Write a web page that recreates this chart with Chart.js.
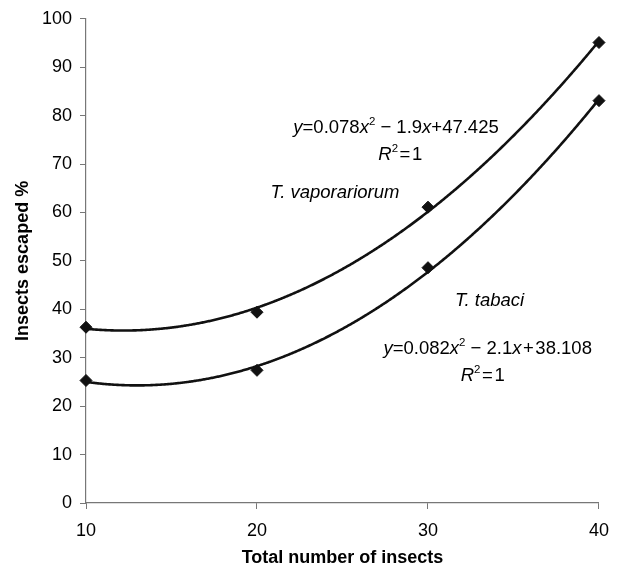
<!DOCTYPE html>
<html>
<head>
<meta charset="utf-8">
<script src="https://cdn.jsdelivr.net/npm/chart.js@4.4.0/dist/chart.umd.min.js"></script>
<style>
html,body{margin:0;padding:0;background:#fff;}
#wrap{width:620px;height:573px;}
</style>
</head>
<body>
<div id="wrap"><canvas id="c" width="620" height="573"></canvas></div>
<script>
// ---- data ----
const totalInsects = [10, 20, 30, 40];
const vaporariorumEscaped = [36.3, 39.4, 61.1, 95.1];
const tabaciEscaped = [25.3, 27.4, 48.6, 83.1];
const seriesNames = ['T. vaporariorum', 'T. tabaci'];
const xTickValues = [10, 20, 30, 40];
const yTickValues = [0, 10, 20, 30, 40, 50, 60, 70, 80, 90, 100];

const FONT = "'Liberation Sans', Arial, Helvetica, sans-serif";

// least-squares quadratic fit (Excel-style polynomial trendline)
function quadFit(xs, ys) {
  let n = xs.length, s1=0,s2=0,s3=0,s4=0,t0=0,t1=0,t2=0;
  for (let i=0;i<n;i++){const x=xs[i],y=ys[i];s1+=x;s2+=x*x;s3+=x*x*x;s4+=x*x*x*x;t0+=y;t1+=x*y;t2+=x*x*y;}
  const M=[[n,s1,s2,t0],[s1,s2,s3,t1],[s2,s3,s4,t2]];
  for (let i=0;i<3;i++){
    for (let k=i+1;k<3;k++){const f=M[k][i]/M[i][i];for(let j=i;j<4;j++)M[k][j]-=f*M[i][j];}
  }
  const r=[0,0,0];
  for (let i=2;i>=0;i--){let s=M[i][3];for(let j=i+1;j<3;j++)s-=M[i][j]*r[j];r[i]=s/M[i][i];}
  return r; // a + b x + c x^2
}

const trendPlugin = {
  id: 'trend',
  beforeDatasetsDraw(chart, args, opts) {
    const {ctx, scales:{x, y}} = chart;
    chart.data.datasets.forEach(ds => {
      const xs = ds.data.map(p => p.x), ys = ds.data.map(p => p.y);
      const [a, b, c] = quadFit(xs, ys);
      const p0 = x.getPixelForValue(Math.min(...xs)), p1 = x.getPixelForValue(Math.max(...xs));
      ctx.save();
      ctx.beginPath();
      for (let px = p0; px <= p1 + 0.01; px += 1) {
        const v = x.getValueForPixel(px);
        const py = y.getPixelForValue(a + b*v + c*v*v);
        if (px === p0) ctx.moveTo(px, py); else ctx.lineTo(px, py);
      }
      ctx.strokeStyle = opts.color;
      ctx.lineWidth = opts.width;
      ctx.lineJoin = 'round';
      ctx.stroke();
      ctx.restore();
    });
  }
};

const labelPlugin = {
  id: 'eqLabels',
  afterDatasetsDraw(chart, args, opts) {
    const {ctx, scales:{x, y}} = chart;
    opts.items.forEach(item => {
      let total = 0;
      const parts = item.segs.map(s => {
        const size = s.sup ? opts.size * 0.62 : opts.size;
        const font = (s.i ? 'italic ' : '') + size + 'px ' + FONT;
        ctx.font = font;
        const w = ctx.measureText(s.t).width;
        total += w;
        return {s, font, w};
      });
      let px = x.getPixelForValue(item.x) - total / 2;
      const py = y.getPixelForValue(item.y);
      ctx.save();
      ctx.fillStyle = '#000';
      ctx.textAlign = 'left';
      ctx.textBaseline = 'alphabetic';
      parts.forEach(p => {
        ctx.font = p.font;
        ctx.fillText(p.s.t, px, p.s.sup ? py - opts.size * 0.42 : py);
        px += p.w;
      });
      ctx.restore();
    });
  }
};

const toPoints = (xs, ys) => xs.map((v, i) => ({x: v, y: ys[i]}));

new Chart(document.getElementById('c'), {
  type: 'scatter',
  data: {
    datasets: [
      {label: seriesNames[0], data: toPoints(totalInsects, vaporariorumEscaped)},
      {label: seriesNames[1], data: toPoints(totalInsects, tabaciEscaped)}
    ]
  },
  options: {
    responsive: false,
    animation: false,
    devicePixelRatio: 1,
    layout: {padding: {left: 0, right: 20, top: 17, bottom: 0}},
    elements: {
      point: {pointStyle: 'rectRot', radius: 6, backgroundColor: '#111', borderColor: '#111', borderWidth: 1}
    },
    datasets: {scatter: {clip: false, showLine: false}},
    plugins: {
      legend: {display: false},
      tooltip: {enabled: false},
      trend: {color: '#111', width: 2.6},
      eqLabels: {
        size: 18.5,
        items: [
          {x: 28.13, y: 76.4, segs: [{t:'y', i:true},{t:'=0.078'},{t:'x', i:true},{t:'2', sup:true},{t:' \u2212 1.9'},{t:'x', i:true},{t:'+47.425'}]},
          {x: 28.38, y: 70.9, segs: [{t:'R', i:true},{t:'2', sup:true},{t:'\u200A=\u200A1'}]},
          {x: 24.56, y: 63.0, segs: [{t:seriesNames[0], i:true}]},
          {x: 33.6, y: 40.7, segs: [{t:seriesNames[1], i:true}]},
          {x: 33.49, y: 30.8, segs: [{t:'y', i:true},{t:'=0.082'},{t:'x', i:true},{t:'2', sup:true},{t:' \u2212 2.1'},{t:'x', i:true},{t:'\u200A+\u200A38.108'}]},
          {x: 33.2, y: 25.2, segs: [{t:'R', i:true},{t:'2', sup:true},{t:'\u200A=\u200A1'}]}
        ]
      }
    },
    scales: {
      x: {
        type: 'linear', min: 10, max: 40,
        afterBuildTicks: s => { s.ticks = xTickValues.map(v => ({value: v})); },
        afterFit: s => { s.height = 70; },
        grid: {display: true, drawOnChartArea: false, drawTicks: true, tickLength: 6, color: '#777'},
        border: {display: true, color: '#777', width: 1.2},
        ticks: {color: '#000', font: {family: FONT, size: 18}, padding: 11, maxRotation: 0},
        title: {display: true, text: 'Total number of insects', color: '#000', font: {family: FONT, size: 18, weight: 'bold'}, padding: {top: 0, bottom: 4}}
      },
      y: {
        type: 'linear', min: 0, max: 100,
        afterBuildTicks: s => { s.ticks = yTickValues.map(v => ({value: v})); },
        afterFit: s => { s.width = 86; },
        grid: {display: true, drawOnChartArea: false, drawTicks: true, tickLength: 6, color: '#777'},
        border: {display: true, color: '#777', width: 1.2},
        ticks: {color: '#000', font: {family: FONT, size: 18}, padding: 8},
        title: {display: true, text: 'Insects escaped %', color: '#000', font: {family: FONT, size: 18, weight: 'bold'}, padding: {top: 12, bottom: 0}}
      }
    }
  },
  plugins: [trendPlugin, labelPlugin]
});
</script>
</body>
</html>
